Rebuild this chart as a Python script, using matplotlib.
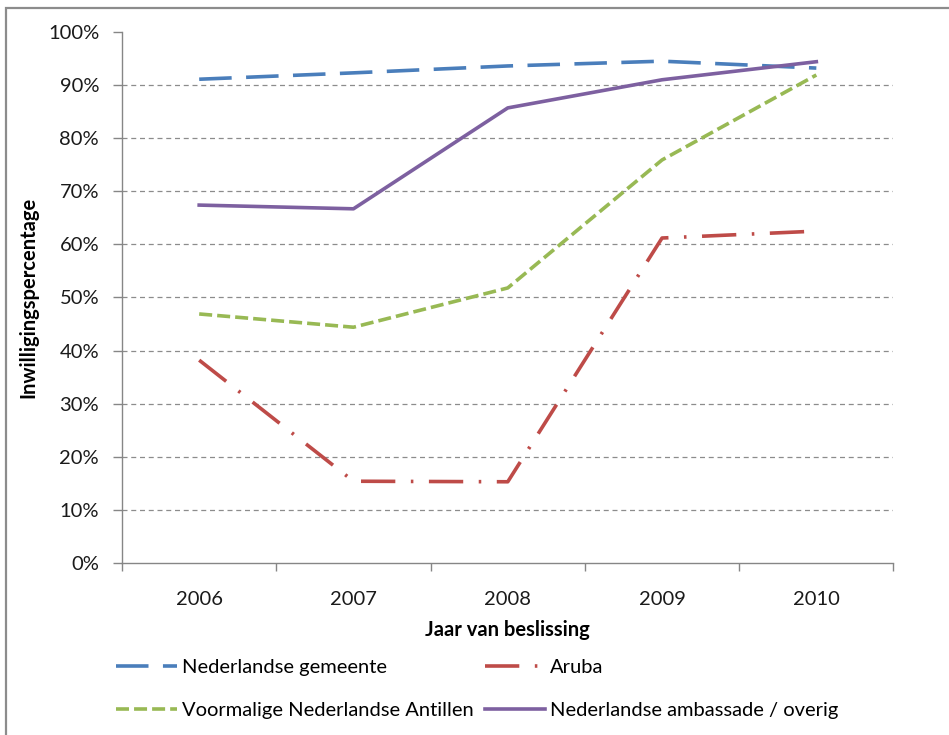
import matplotlib
matplotlib.use("Agg")
import matplotlib.pyplot as plt
from matplotlib.patches import Rectangle
from matplotlib.ticker import PercentFormatter, FixedLocator, NullFormatter

plt.rcParams['font.family'] = ['Lato', 'DejaVu Sans']

years = ["2006", "2007", "2008", "2009", "2010"]
gemeente = [91.1, 92.3, 93.6, 94.5, 93.2]
aruba = [38.2, 15.4, 15.3, 61.2, 62.5]
antillen = [46.9, 44.4, 51.8, 75.9, 91.9]
ambassade = [67.4, 66.7, 85.7, 91.0, 94.4]

labels = ["Nederlandse gemeente", "Aruba", "Voormalige Nederlandse Antillen",
          "Nederlandse ambassade / overig"]
colors = ["#4a7ebb", "#be4b48", "#98b954", "#7d60a0"]

fig = plt.figure(figsize=(9.49, 7.35), dpi=100)
ax = fig.add_axes([0.1286, 0.234, 0.9415 - 0.1286, 0.9565 - 0.234])

x = list(range(len(years)))
lw = 2.6
l1, = ax.plot(x, gemeente, color=colors[0], lw=lw, dashes=(9, 4))
l2, = ax.plot(x, aruba, color=colors[1], lw=lw, dashes=(9.5, 4.3, 0.7, 4.3))
l3, = ax.plot(x, antillen, color=colors[2], lw=lw, dashes=(3.6, 1.4))
l4, = ax.plot(x, ambassade, color=colors[3], lw=lw)

ax.set_xlim(-0.5, len(years) - 0.5)
ax.set_ylim(0, 100)
ax.set_yticks(range(0, 101, 10))
ax.yaxis.set_major_formatter(PercentFormatter(decimals=0))
for yv in range(10, 100, 10):
    ax.axhline(yv, color="#8c8c8c", lw=0.9, ls=(0, (4, 3)), zorder=0)

ax.xaxis.set_major_locator(FixedLocator([i - 0.5 for i in range(len(years) + 1)]))
ax.xaxis.set_major_formatter(NullFormatter())
ax.xaxis.set_minor_locator(FixedLocator(x))
ax.set_xticklabels(years, minor=True)

for s in ["top", "right"]:
    ax.spines[s].set_visible(False)
for s in ["left", "bottom"]:
    ax.spines[s].set_color("#868686")
    ax.spines[s].set_linewidth(1.0)

ax.tick_params(axis='y', which='major', length=6.5, width=1, color="#868686",
               labelsize=14.5, pad=10, labelcolor="#1a1a1a")
ax.tick_params(axis='x', which='major', length=5.5, width=1, color="#868686")
ax.tick_params(axis='x', which='minor', length=0, labelsize=14.5, pad=20,
               labelcolor="#1a1a1a")

ax.set_xlabel("Jaar van beslissing", fontsize=14.5, fontweight='bold', labelpad=9)
ax.set_ylabel("Inwilligingspercentage", fontsize=14.5, fontweight='bold')
ax.yaxis.set_label_coords(-0.108, 0.5)

handles = [l1, l3, l2, l4]
hl = [labels[0], labels[2], labels[1], labels[3]]
fig.legend(handles, hl, ncol=2, loc='upper left', bbox_to_anchor=(0.114, 0.114),
           frameon=False, fontsize=14.5, handlelength=3.0, handletextpad=0.25,
           columnspacing=0.55, labelspacing=1.25, borderaxespad=0)

fig.patches.append(Rectangle((6 / 949, -0.2), 1.2, 0.2 + (1 - 8 / 735),
                             transform=fig.transFigure, fill=False,
                             edgecolor="#8c8c8c", lw=1.6))

fig.savefig("out.png", dpi=100)
